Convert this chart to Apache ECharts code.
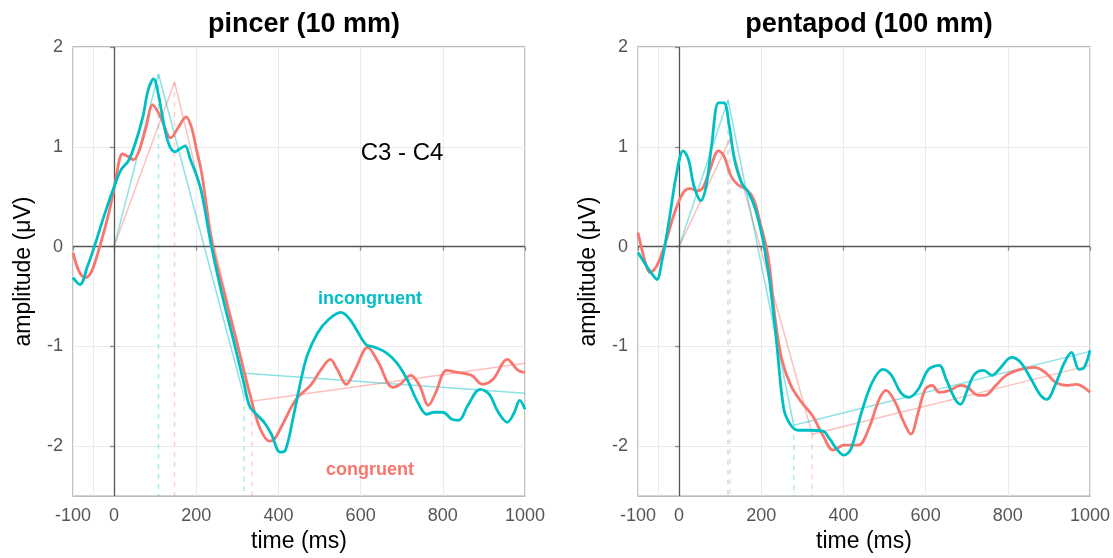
<!DOCTYPE html>
<html>
<head>
<meta charset="utf-8">
<script src="https://cdn.jsdelivr.net/npm/echarts@6.0.0/dist/echarts.min.js"></script>
<style>
html,body{margin:0;padding:0;background:#fff;}
#chart{width:1113px;height:558px;}
</style>
</head>
<body>
<div id="chart"></div>
<script>
// ---------- DATA ----------
const xTickLabels = [-100, 0, 200, 400, 600, 800, 1000];
const yTickLabels = [-2, -1, 0, 1, 2];
const panelTitles = ['pincer (10 mm)', 'pentapod (100 mm)'];

// Panel 1 (pincer) — congruent (red)
const p1CongT = [-100,-85,-70,-55,-35,-15,0,13,20,35,47,60,78,94,113,138,157,175,188,200,213,240,270,300,335,355,378,390,409,443,478,504,526,543,565,587,617,643,678,696,722,743,765,783,809,835,870,896,922,957,983,1000];
const p1CongV = [-0.06,-0.25,-0.31,-0.25,0.0,0.3,0.58,0.87,0.93,0.9,0.87,0.95,1.2,1.42,1.3,1.09,1.2,1.30,1.2,0.98,0.74,0.0,-0.5,-0.98,-1.55,-1.82,-1.95,-1.93,-1.79,-1.53,-1.39,-1.23,-1.13,-1.23,-1.38,-1.23,-1.01,-1.16,-1.41,-1.38,-1.29,-1.39,-1.59,-1.46,-1.24,-1.26,-1.29,-1.38,-1.33,-1.13,-1.24,-1.26];
// Panel 1 — incongruent (cyan)
const p1IncT = [-100,-83,-65,-48,-25,0,17,35,52,70,83,96,109,116,132,148,160,173,185,200,213,237,262,290,315,330,351,365,383,404,417,435,452,470,496,522,552,574,591,613,635,661,687,713,739,761,778,800,822,839,861,891,913,935,957,974,987,1000];
const p1IncV = [-0.31,-0.38,-0.2,0.0,0.3,0.6,0.77,0.86,1.04,1.3,1.57,1.68,1.5,1.34,1.04,0.95,0.98,1.01,0.88,0.72,0.54,0.0,-0.47,-0.93,-1.35,-1.6,-1.70,-1.76,-1.88,-2.06,-2.04,-1.73,-1.39,-1.09,-0.86,-0.73,-0.66,-0.73,-0.84,-0.98,-1.01,-1.06,-1.16,-1.33,-1.56,-1.68,-1.66,-1.66,-1.73,-1.74,-1.59,-1.43,-1.48,-1.66,-1.76,-1.66,-1.54,-1.63];

// Panel 2 (pentapod) — congruent (red)
const p2CongT = [-100,-84,-71,-54,-33,-11,10,27,45,58,75,96,109,126,143,165,182,199,212,221,234,250,272,298,324,350,375,401,436,461,487,504,526,547,564,582,599,616,633,659,685,702,728,745,771,796,831,865,891,916,942,967,1000];
const p2CongV = [0.14,-0.13,-0.26,-0.19,0.04,0.34,0.54,0.58,0.56,0.59,0.77,0.96,0.91,0.71,0.62,0.57,0.47,0.21,0.0,-0.23,-0.73,-1.13,-1.39,-1.56,-1.69,-1.89,-2.04,-1.99,-1.99,-1.83,-1.53,-1.44,-1.56,-1.76,-1.88,-1.66,-1.43,-1.39,-1.46,-1.44,-1.39,-1.41,-1.49,-1.49,-1.39,-1.29,-1.23,-1.21,-1.26,-1.36,-1.39,-1.38,-1.46];
// Panel 2 — incongruent (cyan)
const p2IncT = [-100,-80,-63,-54,-41,-24,-7,10,23,36,53,66,79,96,109,122,135,152,169,186,204,212,221,238,255,272,290,315,350,367,384,401,418,444,470,496,517,539,560,582,607,633,650,672,685,702,719,741,762,779,809,831,857,878,895,916,938,955,973,986,1000];
const p2IncV = [-0.06,-0.19,-0.29,-0.33,-0.13,0.27,0.71,0.96,0.87,0.61,0.46,0.61,1.01,1.44,1.44,1.21,0.87,0.64,0.54,0.37,0.07,-0.13,-0.36,-0.99,-1.63,-1.79,-1.84,-1.84,-1.85,-1.93,-2.03,-2.09,-2.03,-1.66,-1.36,-1.23,-1.29,-1.46,-1.51,-1.43,-1.23,-1.19,-1.33,-1.53,-1.58,-1.43,-1.28,-1.24,-1.29,-1.23,-1.11,-1.16,-1.33,-1.48,-1.53,-1.38,-1.16,-1.06,-1.23,-1.21,-1.04];

// Piecewise fits: onset -> peak -> trough, then linear trend
const p1CongFitT = [0, 147, 335];   const p1CongFitV = [0, 1.65, -1.55];
const p1CongTrendT = [335, 1000];   const p1CongTrendV = [-1.55, -1.17];
const p1IncFitT = [0, 108, 316];    const p1IncFitV = [0, 1.73, -1.5];
const p1IncTrendT = [318, 1000];    const p1IncTrendV = [-1.27, -1.47];

const p2CongFitT = [0, 124, 324];   const p2CongFitV = [0, 1.08, -1.88];
const p2CongTrendT = [324, 1000];   const p2CongTrendV = [-1.88, -1.19];
const p2IncFitT = [0, 119, 279];    const p2IncFitV = [0, 1.47, -1.79];
const p2IncTrendT = [279, 1000];    const p2IncTrendV = [-1.79, -1.05];

const yBottom = -2.5;

// ---------- CHART ----------
const RED = '#F8766D', CYAN = '#00BFC4';
const FONT = '"Liberation Sans", Arial, sans-serif';
const zip = (t, v) => t.map((x, i) => [x, v[i]]);

function thick(t, v, color, idx) {
  return {type:'line', xAxisIndex: idx, yAxisIndex: idx, data: zip(t, v), smooth: 0.35,
    symbol:'none', silent:true, lineStyle:{width:2.8, color}, z:5};
}
function thin(t, v, color, idx) {
  return {type:'line', xAxisIndex: idx, yAxisIndex: idx, data: zip(t, v),
    symbol:'none', silent:true, lineStyle:{width:1.5, color, opacity:0.45}, z:4};
}
function dashes(t, v, color, idx) {
  return [1, 2].map(k => ({type:'line', xAxisIndex: idx, yAxisIndex: idx,
    data: [[t[k], v[k]], [t[k], yBottom]], symbol:'none', silent:true,
    lineStyle:{width:1.5, color, opacity:0.32, type:[5,5]}, z:3}));
}
function refLines(idx) {
  return {type:'line', xAxisIndex: idx, yAxisIndex: idx, data: [], silent:true, z:2,
    markLine:{silent:true, symbol:'none', label:{show:false}, animation:false,
      data:[
        {xAxis:-50, lineStyle:{color:'#ebebeb', width:1, type:'solid'}},
        {xAxis:0, lineStyle:{color:'#555', width:1.3, type:'solid'}},
        {yAxis:0, lineStyle:{color:'#555', width:1.3, type:'solid'}}
      ]}};
}

const grids = [
  {left:73, top:47, width:452, height:450, show:true, borderColor:'#a6a6a6', borderWidth:1.3, containLabel:false},
  {left:638, top:47, width:452, height:450, show:true, borderColor:'#a6a6a6', borderWidth:1.3, containLabel:false}
];

function xAxis(idx) {
  return {type:'value', gridIndex: idx, min:-100, max:1000, interval:100,
    name:'time (ms)', nameLocation:'middle', nameGap:33,
    nameTextStyle:{color:'#000', fontSize:23, fontFamily:FONT},
    axisLine:{show:false},
    axisTick:{show:true, length:4, lineStyle:{color:'#8c8c8c', width:1.3}, customValues: xTickLabels},
    axisLabel:{color:'#555', fontSize:18, fontFamily:FONT, margin:11, customValues: xTickLabels,
      formatter: v => String(v)},
    splitLine:{show:true, lineStyle:{color:'#ebebeb', width:1}}};
}
function yAxis(idx) {
  return {type:'value', gridIndex: idx, min:-2.5, max:2, interval:0.5,
    name:'amplitude (μV)', nameLocation:'middle', nameGap:38,
    nameTextStyle:{color:'#000', fontSize:23, fontFamily:FONT},
    axisLine:{show:false},
    axisTick:{show:true, length:4, lineStyle:{color:'#8c8c8c', width:1.3}, customValues: yTickLabels},
    axisLabel:{color:'#555', fontSize:18, fontFamily:FONT, margin:10, customValues: yTickLabels,
      formatter: v => String(v)},
    splitLine:{show:true, lineStyle:{color:'#ebebeb', width:1}}};
}

const series = [
  refLines(0), refLines(1),
  ...dashes(p1CongFitT, p1CongFitV, RED, 0),
  ...dashes(p1IncFitT, p1IncFitV, CYAN, 0),
  ...dashes(p2CongFitT, p2CongFitV, RED, 1),
  ...dashes(p2IncFitT, p2IncFitV, CYAN, 1),
  thin(p1CongFitT, p1CongFitV, RED, 0), thin(p1CongTrendT, p1CongTrendV, RED, 0),
  thin(p1IncFitT, p1IncFitV, CYAN, 0), thin(p1IncTrendT, p1IncTrendV, CYAN, 0),
  thin(p2CongFitT, p2CongFitV, RED, 1), thin(p2CongTrendT, p2CongTrendV, RED, 1),
  thin(p2IncFitT, p2IncFitV, CYAN, 1), thin(p2IncTrendT, p2IncTrendV, CYAN, 1),
  thick(p1CongT, p1CongV, RED, 0), thick(p1IncT, p1IncV, CYAN, 0),
  thick(p2CongT, p2CongV, RED, 1), thick(p2IncT, p2IncV, CYAN, 1)
];

const chart = echarts.init(document.getElementById('chart'), null, {renderer:'canvas'});
chart.setOption({
  animation:false,
  backgroundColor:'#fff',
  title:[
    {text:panelTitles[0], left:299, top:6, textAlign:'center',
      textStyle:{fontSize:27, fontWeight:'bold', color:'#000', fontFamily:FONT}},
    {text:panelTitles[1], left:864, top:6, textAlign:'center',
      textStyle:{fontSize:27, fontWeight:'bold', color:'#000', fontFamily:FONT}},
    {text:'C3 - C4', left:397, top:136, textAlign:'center',
      textStyle:{fontSize:24, fontWeight:'normal', color:'#000', fontFamily:FONT}},
    {text:'incongruent', left:365, top:285, textAlign:'center',
      textStyle:{fontSize:18, fontWeight:'bold', color:CYAN, fontFamily:FONT}},
    {text:'congruent', left:365, top:456, textAlign:'center',
      textStyle:{fontSize:18, fontWeight:'bold', color:RED, fontFamily:FONT}}
  ],
  grid: grids,
  xAxis:[xAxis(0), xAxis(1)],
  yAxis:[yAxis(0), yAxis(1)],
  series: series
});
</script>
</body>
</html>
